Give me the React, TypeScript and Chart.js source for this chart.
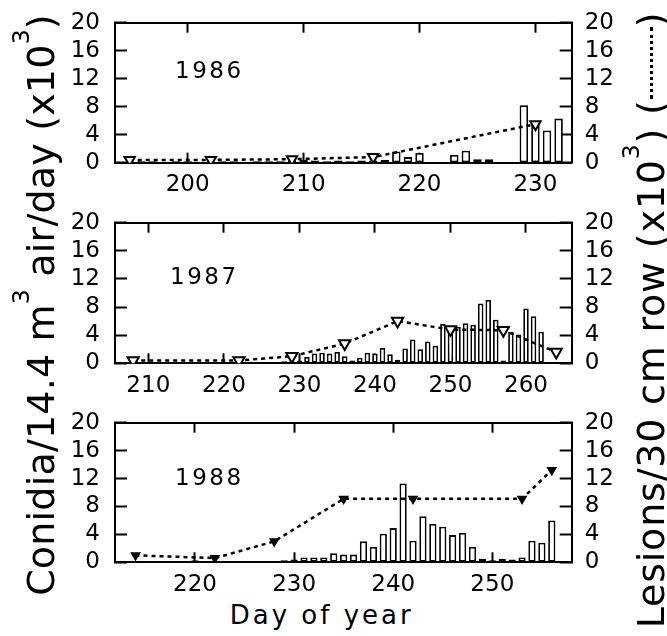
import React, { useEffect, useRef } from 'react';
import { Chart, registerables } from 'chart.js';

Chart.register(...registerables);

const FONT = '"DejaVu Sans", sans-serif';

// ---- 1986 ----
const conidiaDays1986 = [195, 196, 197, 198, 199, 200, 201, 202, 203, 204, 205, 206, 207, 208, 209, 210, 211, 212, 213, 214, 215, 216, 217, 218, 219, 220, 223, 224, 225, 226, 229, 230, 231, 232];
const conidia1986 = [0.1, 0.2, 0.2, 0.1, 0.2, 0.2, 0.1, 0.2, 0.2, 0.2, 0.1, 0.2, 0.2, 0.2, 0.3, 0.4, 0.3, 0.2, 0.3, 0.2, 0.3, 0.3, 0.4, 1.6, 0.8, 1.4, 1.1, 1.7, 0.5, 0.5, 8.2, 5.9, 4.6, 6.3];
const lesionDays1986 = [195, 202, 209, 216, 230];
const lesions1986 = [0.4, 0.4, 0.5, 0.8, 5.5];
const xTicks1986 = [200, 210, 220, 230];

// ---- 1987 ----
const conidiaDays1987 = [209, 210, 211, 212, 213, 214, 215, 216, 217, 218, 219, 220, 221, 222, 223, 224, 225, 226, 227, 228, 229, 230, 231, 232, 233, 234, 235, 236, 237, 238, 239, 240, 241, 242, 243, 244, 245, 246, 247, 248, 249, 250, 251, 252, 253, 254, 255, 256, 257, 258, 259, 260, 261, 262];
const conidia1987 = [0.1, 0.2, 0.1, 0.2, 0.2, 0.1, 0.2, 0.2, 0.1, 0.2, 0.2, 0.1, 0.2, 0.1, 0.1, 0.1, 0.2, 0.2, 0.2, 0.3, 0.3, 0.4, 0.9, 1.4, 1.5, 1.4, 1.6, 1.0, 0.4, 0.8, 1.5, 1.4, 2.2, 1.3, 0.5, 2.1, 3.4, 2.0, 3.1, 2.5, 5.6, 5.2, 5.2, 5.7, 5.5, 8.5, 9.0, 6.2, 0.4, 4.5, 4.1, 7.8, 6.7, 4.5];
const lesionDays1987 = [208, 222, 229, 236, 243, 250, 257, 264];
const lesions1987 = [0.4, 0.4, 1.0, 2.8, 6.0, 4.8, 4.7, 1.6];
const xTicks1987 = [210, 220, 230, 240, 250, 260];

// ---- 1988 ----
const conidiaDays1988 = [213, 214, 215, 216, 217, 218, 219, 220, 221, 222, 223, 224, 225, 226, 227, 228, 229, 230, 231, 232, 233, 234, 235, 236, 237, 238, 239, 240, 241, 242, 243, 244, 245, 246, 247, 248, 249, 250, 251, 252, 253, 254, 255, 256];
const conidia1988 = [0.2, 0.2, 0.1, 0.2, 0.2, 0.2, 0.1, 0.3, 0.2, 0.1, 0.2, 0.2, 0.1, 0.2, 0.2, 0.2, 0.3, 0.4, 0.7, 0.7, 0.7, 1.3, 1.1, 1.1, 3.0, 2.2, 4.1, 4.9, 11.3, 3.1, 6.6, 5.5, 5.1, 3.9, 4.2, 2.2, 0.5, 0.3, 0.5, 0.4, 0.7, 3.1, 2.8, 6.0];
const lesionDays1988 = [214, 222, 228, 235, 242, 253, 256];
const lesions1988 = [1.0, 0.6, 3.0, 9.1, 9.1, 9.1, 13.2];
const xTicks1988 = [220, 230, 240, 250];

const yTicks = [0, 4, 8, 12, 16, 20];

type PanelCfg = {
  year: string;
  conidiaDays: number[];
  conidia: number[];
  lesionDays: number[];
  lesions: number[];
  xTicks: number[];
  xMin: number;
  xMax: number;
  top: number;
  areaBottom: number;
  yearX: number;
  yearDy: number;
  markerFill: string;
  markerRadius: number;
};

const panels: PanelCfg[] = [
  { year: '1986', conidiaDays: conidiaDays1986, conidia: conidia1986, lesionDays: lesionDays1986, lesions: lesions1986, xTicks: xTicks1986, xMin: 193.73, xMax: 233.13, top: 0, areaBottom: 162.7, yearX: 175, yearDy: 49, markerFill: '#fff', markerRadius: 6 },
  { year: '1987', conidiaDays: conidiaDays1987, conidia: conidia1987, lesionDays: lesionDays1987, lesions: lesions1987, xTicks: xTicks1987, xMin: 205.59, xMax: 266.05, top: 200, areaBottom: 163.3, yearX: 170, yearDy: 55, markerFill: '#fff', markerRadius: 6.5 },
  { year: '1988', conidiaDays: conidiaDays1988, conidia: conidia1988, lesionDays: lesionDays1988, lesions: lesions1988, xTicks: xTicks1988, xMin: 211.93, xMax: 258.01, top: 400, areaBottom: 162.3, yearX: 175, yearDy: 56, markerFill: '#000', markerRadius: 4.2 },
];

const W = 667;
const H = 200;
const AREA_LEFT = 115;
const AREA_RIGHT = 571.7;
const AREA_TOP = 22.7;

function clearPadding(axis: any) {
  axis.paddingTop = 0;
  axis.paddingBottom = 0;
  axis.paddingLeft = 0;
  axis.paddingRight = 0;
}

function Panel({ cfg }: { cfg: PanelCfg }) {
  const ref = useRef<HTMLCanvasElement>(null);
  useEffect(() => {
    if (!ref.current) return;
    const bars = cfg.conidiaDays.map((d, i) => ({ x: d, y: cfg.conidia[i] }));
    const pts = cfg.lesionDays.map((d, i) => ({ x: d, y: cfg.lesions[i] }));

    const yearPlugin = {
      id: 'yearLabel',
      afterDraw(chart: any) {
        const c = chart.ctx as CanvasRenderingContext2D;
        c.save();
        c.font = `23px ${FONT}`;
        (c as any).letterSpacing = '2.5px';
        c.fillStyle = '#000';
        c.textBaseline = 'middle';
        c.textAlign = 'left';
        c.fillText(cfg.year, cfg.yearX, chart.chartArea.top + cfg.yearDy);
        c.restore();
      },
    };

    const gridCommon = {
      drawOnChartArea: false,
      drawTicks: true,
      offset: false,
      tickWidth: 2,
      tickColor: '#000',
    };
    const borderCommon = { display: true, color: '#000', width: 2 };
    const xTickSetter = (axis: any) => {
      axis.ticks = cfg.xTicks.map((v) => ({ value: v }));
    };
    const yTickSetter = (axis: any) => {
      axis.ticks = yTicks.map((v) => ({ value: v }));
    };

    const chart = new Chart(ref.current, {
      type: 'bar',
      data: {
        datasets: [
          {
            type: 'line',
            data: pts,
            xAxisID: 'x',
            yAxisID: 'y2',
            borderColor: '#000',
            borderWidth: 2.5,
            borderDash: [4, 4],
            pointStyle: 'triangle',
            rotation: 180,
            pointRadius: cfg.markerRadius,
            pointBackgroundColor: cfg.markerFill,
            pointBorderColor: '#000',
            pointBorderWidth: 2,
            fill: false,
            tension: 0,
            order: 0,
          } as any,
          {
            type: 'bar',
            data: bars,
            xAxisID: 'x',
            yAxisID: 'y',
            backgroundColor: '#fff',
            borderColor: '#000',
            borderWidth: 1.8,
            borderSkipped: false,
            barPercentage: 0.73,
            categoryPercentage: 1,
            order: 1,
          } as any,
        ],
      },
      options: {
        responsive: false,
        animation: false,
        devicePixelRatio: 1,
        events: [],
        layout: { padding: { top: AREA_TOP, left: 0, right: 0, bottom: 0 } },
        plugins: {
          legend: { display: false },
          tooltip: { enabled: false },
          title: { display: false },
        },
        scales: {
          x: {
            type: 'linear',
            position: 'bottom',
            min: cfg.xMin,
            max: cfg.xMax,
            offset: false,
            afterBuildTicks: xTickSetter,
            afterFit: (axis: any) => {
              axis.height = H - cfg.areaBottom;
              clearPadding(axis);
            },
            grid: { ...gridCommon, tickLength: -10 },
            border: borderCommon,
            ticks: {
              font: { family: FONT, size: 23 },
              color: '#000',
              padding: 19,
              maxRotation: 0,
              autoSkip: false,
              callback: (v: any) => String(v),
            },
          },
          xTop: {
            type: 'linear',
            position: 'top',
            min: cfg.xMin,
            max: cfg.xMax,
            offset: false,
            afterBuildTicks: xTickSetter,
            afterFit: (axis: any) => {
              axis.height = 0;
              clearPadding(axis);
            },
            grid: { ...gridCommon, tickLength: -10 },
            border: borderCommon,
            ticks: { display: false },
          },
          y: {
            type: 'linear',
            position: 'left',
            min: 0,
            max: 20,
            afterBuildTicks: yTickSetter,
            afterFit: (axis: any) => {
              axis.width = AREA_LEFT;
              clearPadding(axis);
            },
            grid: { ...gridCommon, tickLength: -12 },
            border: borderCommon,
            ticks: {
              font: { family: FONT, size: 23 },
              color: '#000',
              padding: 27,
              autoSkip: false,
              callback: (v: any) => String(v),
            },
          },
          y2: {
            type: 'linear',
            position: 'right',
            min: 0,
            max: 20,
            afterBuildTicks: yTickSetter,
            afterFit: (axis: any) => {
              axis.width = W - AREA_RIGHT;
              clearPadding(axis);
            },
            grid: { ...gridCommon, tickLength: -12 },
            border: borderCommon,
            ticks: {
              font: { family: FONT, size: 23 },
              color: '#000',
              padding: 25,
              autoSkip: false,
              callback: (v: any) => String(v),
            },
          },
        },
      } as any,
      plugins: [yearPlugin],
    });
    return () => chart.destroy();
  }, [cfg]);

  return (
    <canvas
      ref={ref}
      width={W}
      height={H}
      style={{ position: 'absolute', left: 0, top: cfg.top, width: W, height: H, display: 'block' }}
    />
  );
}

const supStyle: React.CSSProperties = {
  fontSize: '0.62em',
  verticalAlign: 'baseline',
  position: 'relative',
  top: '-25px',
  lineHeight: 0,
};

function RotatedTitle({ cx, cy, length, spacing, children }: { cx: number; cy: number; length: number; spacing: number; children: React.ReactNode }) {
  return (
    <div
      style={{
        position: 'absolute',
        left: cx - length / 2,
        top: cy - 19,
        width: length,
        height: 38,
        lineHeight: '38px',
        fontSize: 38,
        fontFamily: FONT,
        letterSpacing: spacing,
        color: '#000',
        textAlign: 'center',
        whiteSpace: 'nowrap',
        transform: 'rotate(-90deg)',
        transformOrigin: '50% 50%',
      }}
    >
      {children}
    </div>
  );
}

export default function App() {
  return (
    <div
      style={{
        position: 'fixed',
        left: 0,
        top: 0,
        width: W,
        height: 636,
        overflow: 'hidden',
        background: '#fff',
      }}
    >
      {panels.map((p) => (
        <Panel key={p.year} cfg={p} />
      ))}
      <RotatedTitle cx={41} cy={305} length={700} spacing={0.2}>
        Conidia/14.4 m<sup style={supStyle}>3</sup> air/day (x10<sup style={supStyle}>3</sup>)
      </RotatedTitle>
      <RotatedTitle cx={651} cy={320} length={700} spacing={0.8}>
        Lesions/30 cm row (x10<sup style={supStyle}>3</sup>) (
        <span
          style={{
            display: 'inline-block',
            width: 72,
            borderTop: '3px dotted #000',
            verticalAlign: '0.3em',
          }}
        />
        )
      </RotatedTitle>
      <div
        style={{
          position: 'absolute',
          left: 321.7 - 160,
          top: 602,
          width: 320,
          height: 26,
          lineHeight: '26px',
          fontSize: 26,
          fontFamily: FONT,
          letterSpacing: '3px',
          textAlign: 'center',
          color: '#000',
          whiteSpace: 'nowrap',
        }}
      >
        Day of year
      </div>
    </div>
  );
}
